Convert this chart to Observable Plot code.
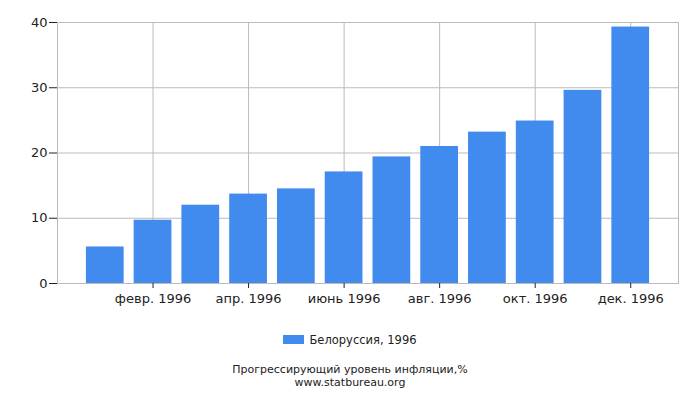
<!DOCTYPE html>
<html>
<head>
<meta charset="utf-8">
<script src="https://cdn.jsdelivr.net/npm/d3@7"></script>
<script src="https://cdn.jsdelivr.net/npm/@observablehq/plot@0.6"></script>
<style>
  body { margin: 0; background: #fff; font-family: "DejaVu Sans", sans-serif; }
  #wrap { position: relative; width: 700px; height: 400px; }
  #legend { position: absolute; top: 333px; left: 0; width: 700px; text-align: center; font-size: 11.5px; color: #222; }
  #legend .sw { display: inline-block; width: 21px; height: 9px; background: #418bee; margin-right: 5px; vertical-align: 0px; }
  .cap { position: absolute; left: 0; width: 700px; text-align: center; font-size: 11px; line-height: 13px; height: 13px; color: #222; }
</style>
</head>
<body>
<div id="wrap">
  <div id="chart"></div>
  <div id="legend"><span class="sw"></span>Белоруссия, 1996</div>
  <div class="cap" style="top:363px">Прогрессирующий уровень инфляции,%</div>
  <div class="cap" style="top:376px">www.statbureau.org</div>
</div>
<script>
const months = ["янв. 1996", "февр. 1996", "март 1996", "апр. 1996", "май 1996", "июнь 1996",
                "июль 1996", "авг. 1996", "сент. 1996", "окт. 1996", "нояб. 1996", "дек. 1996"];
const values = [5.6, 9.7, 12.0, 13.7, 14.5, 17.1, 19.4, 21.0, 23.2, 24.9, 29.6, 39.3];
const xTicks = ["февр. 1996", "апр. 1996", "июнь 1996", "авг. 1996", "окт. 1996", "дек. 1996"];
const yTicks = [0, 10, 20, 30, 40];

const data = months.map((m, i) => ({month: m, value: values[i]}));

const chart = Plot.plot({
  width: 700,
  height: 318,
  marginLeft: 57,
  marginRight: 22,
  marginTop: 22,
  marginBottom: 35,
  style: {fontFamily: "DejaVu Sans, sans-serif", fontSize: "13px", color: "#222", background: "#fff"},
  x: {type: "band", domain: months, paddingInner: 0.21, paddingOuter: 0.605, align: 0.5, round: false},
  y: {domain: [0, 40]},
  marks: [
    Plot.gridY(yTicks, {stroke: "#bbb", strokeOpacity: 1}),
    Plot.gridX(xTicks, {stroke: "#bbb", strokeOpacity: 1}),
    Plot.barY(data, {x: "month", y: "value", fill: "#418bee"}),
    Plot.frame({stroke: "#bbb"}),
    Plot.axisY({ticks: yTicks, tickSize: 8, tickPadding: 2, stroke: "#222", label: null, fontSize: 13}),
    Plot.axisX({ticks: xTicks, tickSize: 5, tickPadding: 5, stroke: "#222", label: null, fontSize: 13})
  ]
});
document.getElementById("chart").appendChild(chart);
</script>
</body>
</html>
